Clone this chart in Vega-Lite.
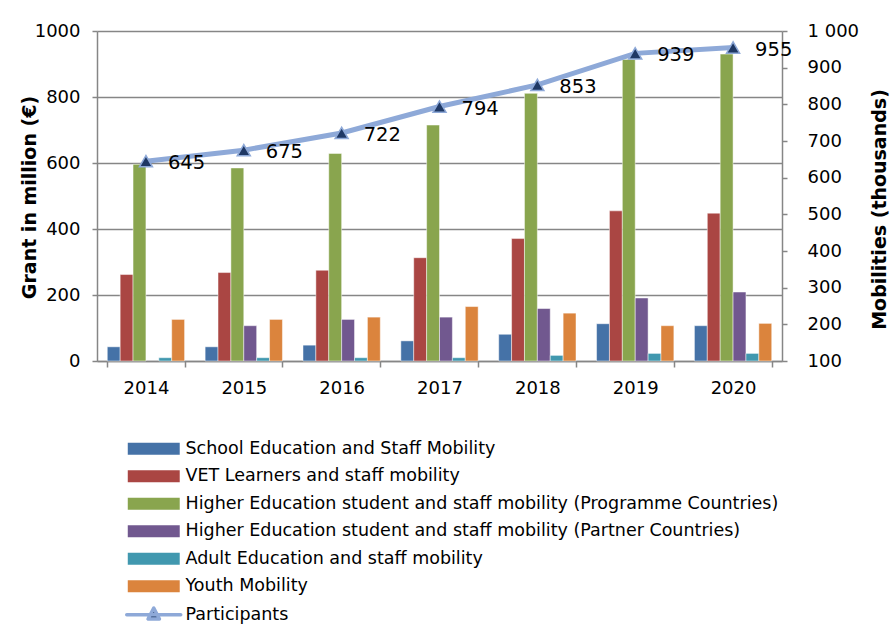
{
  "$schema": "https://vega.github.io/schema/vega-lite/v6.json",
  "width": 685,
  "height": 330,
  "autosize": {"type": "none"},
  "padding": {"left": 97, "top": 31, "right": 110, "bottom": 282},
  "background": "white",
  "config": {
    "font": "DejaVu Sans",
    "view": {"stroke": null},
    "locale": {"number": {"decimal": ".", "thousands": " ", "grouping": [3], "currency": ["", ""]}},
    "axis": {"labelColor": "#000", "titleColor": "#000", "domainColor": "#868686", "tickColor": "#868686", "gridColor": "#868686"}
  },
  "datasets": {
    "bars": [
      {"year": "2014", "series": "School Education and Staff Mobility", "value": 43},
      {"year": "2014", "series": "VET Learners and staff mobility", "value": 262},
      {"year": "2014", "series": "Higher Education student and staff mobility (Programme Countries)", "value": 596},
      {"year": "2014", "series": "Adult Education and staff mobility", "value": 10},
      {"year": "2014", "series": "Youth Mobility", "value": 126},
      {"year": "2015", "series": "School Education and Staff Mobility", "value": 43},
      {"year": "2015", "series": "VET Learners and staff mobility", "value": 268},
      {"year": "2015", "series": "Higher Education student and staff mobility (Programme Countries)", "value": 585},
      {"year": "2015", "series": "Higher Education student and staff mobility (Partner Countries)", "value": 107},
      {"year": "2015", "series": "Adult Education and staff mobility", "value": 10},
      {"year": "2015", "series": "Youth Mobility", "value": 126},
      {"year": "2016", "series": "School Education and Staff Mobility", "value": 48},
      {"year": "2016", "series": "VET Learners and staff mobility", "value": 275},
      {"year": "2016", "series": "Higher Education student and staff mobility (Programme Countries)", "value": 629},
      {"year": "2016", "series": "Higher Education student and staff mobility (Partner Countries)", "value": 126},
      {"year": "2016", "series": "Adult Education and staff mobility", "value": 10},
      {"year": "2016", "series": "Youth Mobility", "value": 133},
      {"year": "2017", "series": "School Education and Staff Mobility", "value": 61},
      {"year": "2017", "series": "VET Learners and staff mobility", "value": 313},
      {"year": "2017", "series": "Higher Education student and staff mobility (Programme Countries)", "value": 715},
      {"year": "2017", "series": "Higher Education student and staff mobility (Partner Countries)", "value": 133},
      {"year": "2017", "series": "Adult Education and staff mobility", "value": 10},
      {"year": "2017", "series": "Youth Mobility", "value": 165},
      {"year": "2018", "series": "School Education and Staff Mobility", "value": 81},
      {"year": "2018", "series": "VET Learners and staff mobility", "value": 371},
      {"year": "2018", "series": "Higher Education student and staff mobility (Programme Countries)", "value": 811},
      {"year": "2018", "series": "Higher Education student and staff mobility (Partner Countries)", "value": 159},
      {"year": "2018", "series": "Adult Education and staff mobility", "value": 17},
      {"year": "2018", "series": "Youth Mobility", "value": 145},
      {"year": "2019", "series": "School Education and Staff Mobility", "value": 113},
      {"year": "2019", "series": "VET Learners and staff mobility", "value": 455},
      {"year": "2019", "series": "Higher Education student and staff mobility (Programme Countries)", "value": 914},
      {"year": "2019", "series": "Higher Education student and staff mobility (Partner Countries)", "value": 191},
      {"year": "2019", "series": "Adult Education and staff mobility", "value": 23},
      {"year": "2019", "series": "Youth Mobility", "value": 107},
      {"year": "2020", "series": "School Education and Staff Mobility", "value": 107},
      {"year": "2020", "series": "VET Learners and staff mobility", "value": 448},
      {"year": "2020", "series": "Higher Education student and staff mobility (Programme Countries)", "value": 930},
      {"year": "2020", "series": "Higher Education student and staff mobility (Partner Countries)", "value": 209},
      {"year": "2020", "series": "Adult Education and staff mobility", "value": 23},
      {"year": "2020", "series": "Youth Mobility", "value": 114}
    ],
    "line": [
      {"year": "2014", "participants": 645},
      {"year": "2015", "participants": 675},
      {"year": "2016", "participants": 722},
      {"year": "2017", "participants": 794},
      {"year": "2018", "participants": 853},
      {"year": "2019", "participants": 939},
      {"year": "2020", "participants": 955}
    ]
  },
  "layer": [
    {
      "data": {"name": "bars"},
      "mark": {"type": "bar", "stroke": "white", "strokeOpacity": 0.6, "strokeWidth": 0.8},
      "encoding": {
        "x": {
          "field": "year", "type": "nominal",
          "scale": {"paddingInner": 0.21, "paddingOuter": 0.105},
          "axis": {"title": null, "labelAngle": 0, "labelFontSize": 18, "labelPadding": 12, "tickSize": 6, "tickBand": "extent", "tickWidth": 1.5, "domainWidth": 1.5, "grid": false}
        },
        "xOffset": {
          "field": "series", "type": "nominal",
          "sort": ["School Education and Staff Mobility", "VET Learners and staff mobility", "Higher Education student and staff mobility (Programme Countries)", "Higher Education student and staff mobility (Partner Countries)", "Adult Education and staff mobility", "Youth Mobility"],
          "scale": {"paddingInner": 0, "paddingOuter": 0}
        },
        "y": {
          "field": "value", "type": "quantitative",
          "scale": {"domain": [0, 1000]},
          "axis": {"values": [0, 200, 400, 600, 800, 1000], "format": "d", "labelFontSize": 18, "labelPadding": 12, "tickSize": 5, "tickWidth": 1.5, "domainWidth": 1.5, "gridWidth": 1.5, "title": "Grant in million (€)", "titleFontSize": 19, "titleFontWeight": "bold", "titleAngle": -90, "titleBaseline": "middle", "titleX": -68, "titleY": 166}
        },
        "color": {
          "field": "series", "type": "nominal",
          "scale": {
            "domain": ["School Education and Staff Mobility", "VET Learners and staff mobility", "Higher Education student and staff mobility (Programme Countries)", "Higher Education student and staff mobility (Partner Countries)", "Adult Education and staff mobility", "Youth Mobility"],
            "range": ["#4572A7", "#AA4643", "#89A54E", "#71588F", "#4198AF", "#DB843D"]
          },
          "legend": {
            "orient": "none", "legendX": 48, "legendY": 409, "title": null,
            "symbolType": "M-4.33,-1H4.33V1H-4.33Z", "symbolSize": 144, "symbolStrokeWidth": 0,
            "labelFontSize": 17.5, "labelColor": "#000", "labelLimit": 900, "labelOffset": 23, "rowPadding": 8.5
          }
        }
      }
    },
    {
      "data": {"name": "line"},
      "encoding": {
        "x": {"field": "year", "type": "nominal"},
        "y": {
          "field": "participants", "type": "quantitative",
          "scale": {"domain": [100, 1000]},
          "axis": {"orient": "right", "values": [100, 200, 300, 400, 500, 600, 700, 800, 900, 1000], "format": ",d", "labelFontSize": 18, "labelPadding": 20, "tickSize": 5, "tickWidth": 1.5, "domainWidth": 1.5, "grid": false, "title": "Mobilities  (thousands)", "titleFontSize": 19, "titleFontWeight": "bold", "titleAngle": -90, "titleBaseline": "middle", "titleX": 97, "titleY": 178}
        }
      },
      "layer": [
        {
          "mark": {"type": "line", "strokeWidth": 5, "strokeCap": "round"},
          "encoding": {
            "stroke": {
              "datum": "Participants", "type": "nominal",
              "scale": {"range": ["#8EA9D8"]},
              "legend": {
                "orient": "none", "legendX": 48, "legendY": 575, "title": null,
                "symbolType": "M-4.5,0H4.5M-0.95,0.7L0.95,0.7L0,-1.1Z", "symbolSize": 144,
                "symbolFillColor": "#1F3864", "symbolStrokeWidth": 3.5,
                "labelFontSize": 17.5, "labelColor": "#000", "labelOffset": 23,
                "encode": {"symbols": {"update": {"fill": {"value": "#1F3864"}, "fillOpacity": {"value": 1}, "stroke": {"value": "#8EA9D8"}, "strokeWidth": {"value": 3.5}, "strokeCap": {"value": "round"}, "strokeJoin": {"value": "round"}}}}
              }
            }
          }
        },
        {
          "mark": {"type": "point", "shape": "triangle-up", "filled": true, "fill": "#1F3864", "stroke": "#8EA9D8", "strokeWidth": 1.5, "size": 170, "opacity": 1}
        },
        {
          "mark": {"type": "text", "align": "left", "baseline": "middle", "dx": 22, "dy": 2, "fontSize": 19.5, "color": "#000"},
          "encoding": {"text": {"field": "participants", "type": "quantitative"}}
        }
      ]
    }
  ],
  "resolve": {"scale": {"y": "independent"}}
}
